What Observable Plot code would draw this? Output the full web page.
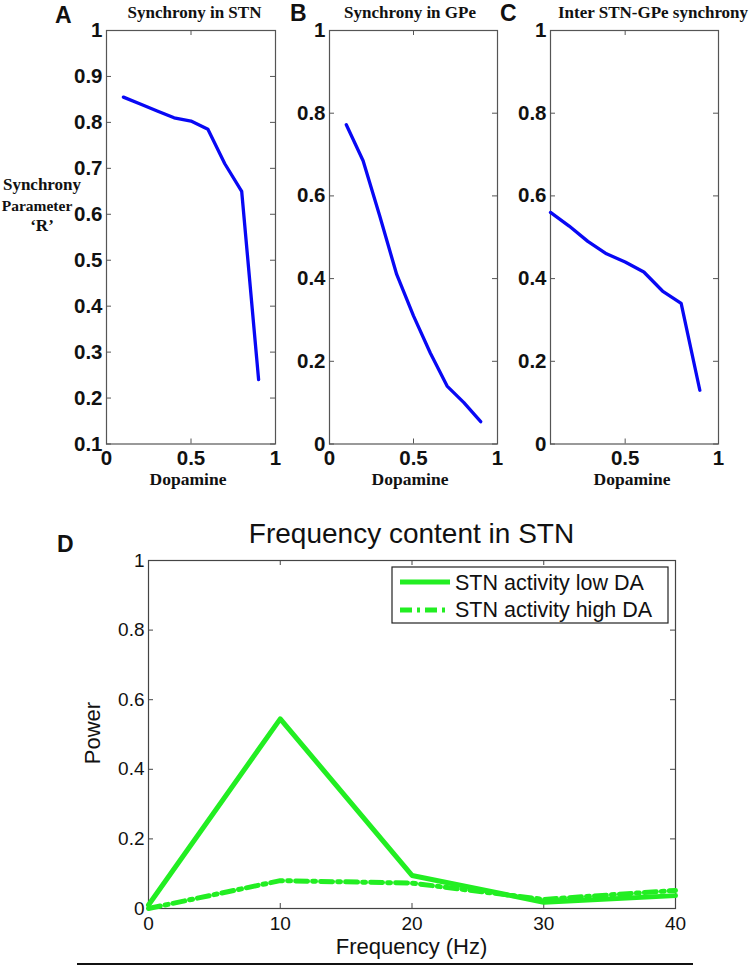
<!DOCTYPE html>
<html>
<head>
<meta charset="utf-8">
<script src="https://cdn.jsdelivr.net/npm/d3@7"></script>
<script src="https://cdn.jsdelivr.net/npm/@observablehq/plot@0.6"></script>
<style>
  body { margin: 0; background: #fff; }
  #chart { position: relative; width: 756px; height: 970px; overflow: hidden; background: #fff; }
  #chart svg { position: absolute; left: 0; top: 0; }
</style>
</head>
<body>
<div id="chart"></div>
<script>
// ---------- data ----------
const dopamine = [0.1, 0.2, 0.3, 0.4, 0.5, 0.6, 0.7, 0.8, 0.9];
const syncSTN = [0.855, 0.84, 0.825, 0.81, 0.803, 0.785, 0.71, 0.65, 0.24];
const syncGPe = [0.772, 0.685, 0.55, 0.41, 0.31, 0.22, 0.14, 0.10, 0.054];
const syncInter = [0.56, 0.527, 0.49, 0.46, 0.44, 0.416, 0.37, 0.34, 0.13];

const frequency = [0, 10, 20, 30, 40];
const powerLowDA = [0.01, 0.545, 0.095, 0.018, 0.037];
const powerHighDA = [0.0, 0.08, 0.073, 0.026, 0.052];

const ticksA = [0.1, 0.2, 0.3, 0.4, 0.5, 0.6, 0.7, 0.8, 0.9, 1];
const ticksBC = [0, 0.2, 0.4, 0.6, 0.8, 1];
const xLabelsAB = [0, 0.5, 1];
const xLabelsC = [0.5, 1];
const xInnerTicks = [0.5];
const ticksPowerLabels = [0, 0.2, 0.4, 0.6, 0.8, 1];
const ticksPowerInner = [0.2, 0.4, 0.6, 0.8];
const ticksFreqLabels = [0, 10, 20, 30, 40];
const ticksFreqInner = [10, 20, 30];

const panelLetters = ["A", "B", "C", "D"];
const panelTitles = ["Synchrony in STN", "Synchrony in GPe", "Inter STN-GPe synchrony"];
const yLabelLines = ["Synchrony", "Parameter", "\u2018R\u2019"];
const xLabelTop = "Dopamine";
const titleD = "Frequency content in STN";
const xLabelD = "Frequency (Hz)";
const yLabelD = "Power";
const legendLabels = ["STN activity low DA", "STN activity high DA"];

// ---------- style ----------
const W = 756;
const BLUE = "#0808f4";
const GREEN = "#22ee22";
const FRAME = "#555";
const SANS = "'Liberation Sans', Arial, sans-serif";
const SERIF = "'Liberation Serif', 'Times New Roman', serif";
const fmt = d3.format("~g");
const DASHDOT = "12,5,3,5";

const chart = document.getElementById("chart");

function synchronyPanel({values, yDomain, yTicks, xDomain, xLabels, frameLeft, frameRight}) {
  const top = 30, bottom = 443.5, H = 480;
  const iw = frameRight - frameLeft, ih = bottom - top;
  const data = dopamine.map((d, i) => ({dopamine: d, R: values[i]}));
  return Plot.plot({
    width: W, height: H,
    marginLeft: frameLeft, marginRight: W - frameRight,
    marginTop: top, marginBottom: H - bottom,
    x: {domain: xDomain},
    y: {domain: yDomain},
    style: {background: "transparent", overflow: "visible", fontFamily: SANS, fontSize: "20.5px", fontWeight: "bold", color: "#111"},
    marks: [
      Plot.frame({stroke: FRAME, strokeWidth: 1.2}),
      Plot.tickY(yTicks, {y: d => d, insetRight: iw - 5, stroke: FRAME}),
      Plot.tickY(yTicks, {y: d => d, insetLeft: iw - 5, stroke: FRAME}),
      Plot.tickX(xInnerTicks, {x: d => d, insetTop: ih - 5, stroke: FRAME}),
      Plot.tickX(xInnerTicks, {x: d => d, insetBottom: ih - 5, stroke: FRAME}),
      Plot.axisY(yTicks, {tickSize: 0, tickPadding: 4, tickFormat: fmt, label: null}),
      Plot.axisX(xLabels, {tickSize: 0, tickPadding: 6, tickFormat: fmt, label: null}),
      Plot.line(data, {x: "dopamine", y: "R", stroke: BLUE, strokeWidth: 3.3})
    ]
  });
}

chart.append(synchronyPanel({values: syncSTN, yDomain: [0.1, 1], yTicks: ticksA, xDomain: [0, 1], xLabels: xLabelsAB, frameLeft: 106, frameRight: 275}));
chart.append(synchronyPanel({values: syncGPe, yDomain: [0, 1], yTicks: ticksBC, xDomain: [0, 1], xLabels: xLabelsAB, frameLeft: 329, frameRight: 497}));
chart.append(synchronyPanel({values: syncInter, yDomain: [0, 1], yTicks: ticksBC, xDomain: [0.1, 1], xLabels: xLabelsC, frameLeft: 550, frameRight: 718}));

// ---------- panel D ----------
{
  const H = 970, top = 560, bottom = 908, left = 148, right = 675;
  const iw = right - left, ih = bottom - top;
  const low = frequency.map((f, i) => ({f, p: powerLowDA[i]}));
  const high = frequency.map((f, i) => ({f, p: powerHighDA[i]}));
  chart.append(Plot.plot({
    width: W, height: H,
    marginLeft: left, marginRight: W - right, marginTop: top, marginBottom: H - bottom,
    x: {domain: [0, 40]},
    y: {domain: [0, 1]},
    style: {background: "transparent", overflow: "visible", fontFamily: SANS, fontSize: "19px", color: "#111"},
    marks: [
      Plot.frame({stroke: "#444", strokeWidth: 1.2}),
      Plot.tickY(ticksPowerInner, {y: d => d, insetRight: iw - 5, stroke: "#444"}),
      Plot.tickY(ticksPowerInner, {y: d => d, insetLeft: iw - 5, stroke: "#444"}),
      Plot.tickX(ticksFreqInner, {x: d => d, insetTop: ih - 5, stroke: "#444"}),
      Plot.tickX(ticksFreqInner, {x: d => d, insetBottom: ih - 5, stroke: "#444"}),
      Plot.axisY(ticksPowerLabels, {tickSize: 0, tickPadding: 4, tickFormat: fmt, label: null}),
      Plot.axisX(ticksFreqLabels, {tickSize: 0, tickPadding: 8, tickFormat: fmt, label: null}),
      Plot.line(high, {x: "f", y: "p", stroke: GREEN, strokeWidth: 5, strokeDasharray: DASHDOT}),
      Plot.line(low, {x: "f", y: "p", stroke: GREEN, strokeWidth: 5})
    ]
  }));
}

// ---------- text overlay & legend ----------
const svg = d3.create("svg").attr("width", W).attr("height", 970);
function txt(s, x, y, o = {}) {
  return svg.append("text").text(s).attr("x", x).attr("y", y)
    .attr("font-family", o.family || SANS)
    .attr("font-size", o.size || 16)
    .attr("font-weight", o.weight || "normal")
    .attr("text-anchor", o.anchor || "middle")
    .attr("fill", o.fill || "#111");
}
// letters
txt(panelLetters[0], 55, 23, {size: 23, weight: "bold", anchor: "start"});
txt(panelLetters[1], 290, 21, {size: 23, weight: "bold", anchor: "start"});
txt(panelLetters[2], 500, 21, {size: 23, weight: "bold", anchor: "start"});
txt(panelLetters[3], 57, 552, {size: 23, weight: "bold", anchor: "start"});
// panel titles
[194.5, 410, 653].forEach((cx, i) => txt(panelTitles[i], cx, 18, {family: SERIF, size: 17, weight: "bold"}));
// y label A (the middle line is kept clear of the 0.6 tick label)
txt(yLabelLines[0], 42, 190, {family: SERIF, size: 17, weight: "bold"});
txt(yLabelLines[1], 37, 210.5, {family: SERIF, size: 15.5, weight: "bold"});
txt(yLabelLines[2], 42, 231, {family: SERIF, size: 17, weight: "bold"});
// Dopamine labels
[188, 410, 632].forEach(cx => txt(xLabelTop, cx, 485, {family: SERIF, size: 17.5, weight: "bold"}));
// panel D texts
txt(titleD, 411.5, 543, {size: 28});
txt(xLabelD, 411.5, 954, {size: 22});
txt(yLabelD, 0, 0, {size: 22}).attr("transform", "translate(100,733) rotate(-90)");
// legend
svg.append("rect").attr("x", 392).attr("y", 567).attr("width", 276).attr("height", 56)
  .attr("fill", "#fff").attr("stroke", "#222").attr("stroke-width", 1.2);
svg.append("line").attr("x1", 400).attr("x2", 450).attr("y1", 582).attr("y2", 582)
  .attr("stroke", GREEN).attr("stroke-width", 5);
svg.append("line").attr("x1", 400).attr("x2", 450).attr("y1", 610).attr("y2", 610)
  .attr("stroke", GREEN).attr("stroke-width", 5).attr("stroke-dasharray", DASHDOT);
txt(legendLabels[0], 455, 590, {size: 21.5, anchor: "start"});
txt(legendLabels[1], 455, 617, {size: 21.5, anchor: "start"});
// bottom rule
svg.append("line").attr("x1", 77).attr("x2", 693).attr("y1", 964).attr("y2", 964)
  .attr("stroke", "#111").attr("stroke-width", 2);

chart.append(svg.node());
</script>
</body>
</html>
